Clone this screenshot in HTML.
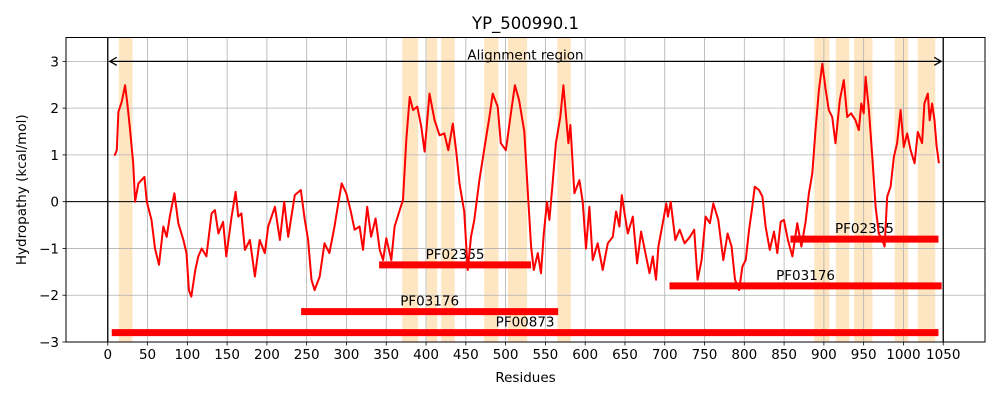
<!DOCTYPE html>
<html><head><meta charset="utf-8"><style>
html,body{margin:0;padding:0;background:#fff;}
svg{display:block;font-family:"DejaVu Sans","Liberation Sans",sans-serif;}
</style></head><body>
<svg id="chart" width="1000" height="400" viewBox="0 0 1000 400">
<rect x="0" y="0" width="1000" height="400" fill="#fff"/>
<g id="spans"></g><g id="grid"></g><g id="refs"></g><g id="domains"></g><g id="series"></g><g id="axes"></g>
</svg>
<script>
const residues=[8.4,11.3,13.4,17.6,21.8,25,28,32,34.3,38.5,46,49,55,59.4,64.4,69.8,74,78,83.7,88.7,95,99,102,105,110,113.8,118,124,130.5,134.7,139,145,149,155.6,160.6,164,168,172.3,178.6,184.9,191,197.4,201.6,210,216.3,221.7,226.7,235,242.6,247.6,251.8,256,260,266.4,272.4,278.6,285,289,294,299.8,305,310.2,316.5,320.8,326,331,336.6,341.7,346,350.1,356.3,360.5,365.6,371,375.2,379.4,383.6,389,394,398.2,404.4,410.7,417,423,428,433.6,437.8,442,448,452.3,456.5,460.7,467,473,479.6,483.8,490,494,500.4,506.7,511.7,517,523.5,527,532,535.4,540.4,544.5,548,552,555,559,563.2,568.7,572.6,576,578.9,581.4,586.4,592.7,596.9,601,605.3,609.5,615.8,622,628.4,634.7,638.9,643,646,650.2,653.6,659.8,665.3,670.3,676.6,680.8,685,689,692,697.8,702,704,707.5,713.3,718.8,725,731.7,737,741.3,746.3,751.3,756.8,761,767.3,773.6,779,784,788.3,793.4,797.6,801.7,806,810,813,818.5,822.7,826.7,832,837.3,841.5,845.7,849.8,854.8,860.4,866.6,871.7,877,881.2,885.4,889.5,893.7,898,902,906.2,910.4,914.6,920,925,929.3,934.2,939.7,943.9,947,950,952.4,956.6,960.8,965,969,973.4,976.3,979.6,983.8,988,992,996.4,1000.5,1004.7,1009,1014,1018,1023.4,1026.4,1030.6,1033,1036,1039,1041.5,1044.5];
const hydropathy=[0.98,1.1,1.92,2.14,2.49,2.03,1.53,0.82,0,0.39,0.53,0,-0.39,-1,-1.35,-0.53,-0.75,-0.32,0.18,-0.46,-0.82,-1.1,-1.89,-2.03,-1.46,-1.17,-1,-1.17,-0.25,-0.18,-0.68,-0.43,-1.17,-0.32,0.21,-0.32,-0.25,-1.03,-0.82,-1.6,-0.82,-1.1,-0.53,-0.11,-0.82,0,-0.75,0.14,0.25,-0.39,-0.82,-1.67,-1.89,-1.6,-0.89,-1.1,-0.53,-0.11,0.39,0.18,-0.18,-0.6,-0.53,-1.03,-0.11,-0.75,-0.36,-1.03,-1.25,-0.78,-1.25,-0.53,-0.25,0.04,1.32,2.24,1.96,2.03,1.6,1.07,2.31,1.74,1.42,1.46,1.1,1.67,1.1,0.39,-0.21,-1.46,-0.75,-0.39,0.46,1.1,1.81,2.31,2.03,1.25,1.1,1.89,2.49,2.17,1.5,0.46,-0.96,-1.46,-1.1,-1.53,-0.68,0,-0.39,0.39,1.25,1.81,2.49,1.81,1.25,1.64,0.18,0.46,0,-1,-0.11,-1.25,-0.89,-1.46,-0.89,-0.75,-0.21,-0.53,0.14,-0.32,-0.68,-0.32,-1.32,-0.64,-1.17,-1.53,-1.17,-1.67,-0.96,-0.43,-0.04,-0.32,0,-0.82,-0.6,-0.89,-0.75,-0.6,-1.67,-1.25,-0.32,-0.46,-0.04,-0.39,-1.25,-0.68,-0.96,-1.67,-1.89,-1.39,-1.25,-0.6,-0.11,0.32,0.25,0.11,-0.53,-1.03,-0.64,-1.1,-0.43,-0.39,-0.82,-1.17,-0.46,-0.96,-0.43,0.18,0.6,1.53,2.38,2.95,2.42,1.96,1.81,1.25,2.17,2.6,1.81,1.89,1.74,1.53,2.1,1.89,2.67,1.96,0.96,-0.11,-0.68,-0.82,-0.96,0.11,0.32,0.96,1.25,1.96,1.17,1.46,1.1,0.82,1.49,1.25,2.1,2.31,1.74,2.1,1.74,1.21,0.82];
const spanStarts=[14,370,401,419,473,503,565,888,915,938,989,1018];
const spanEnds=[31,390,414,436,491,527,582,907,932,961,1006,1040];
const domainNames=["PF00873","PF03176","PF02355","PF03176","PF02355"];
const domainStarts=[5,243,341,706,858];
const domainEnds=[1044,566,532,1048,1044];
const domainLevels=[-2.8,-2.35,-1.35,-1.8,-0.8];
const xTicks=[0,50,100,150,200,250,300,350,400,450,500,550,600,650,700,750,800,850,900,950,1000,1050];
const yTicks=[-3,-2,-1,0,1,2,3];

const L=66,R=985,T=37.5,B=342;
const xmin=-52.5,xmax=1102.5,ymin=-3,ymax=3.51;
const X=v=>L+(v-xmin)/(xmax-xmin)*(R-L);
const Y=v=>B-(v-ymin)/(ymax-ymin)*(B-T);
const NS="http://www.w3.org/2000/svg";
function mk(tag,parent,attrs){const e=document.createElementNS(NS,tag);for(const k in attrs)e.setAttribute(k,attrs[k]);document.getElementById(parent).appendChild(e);return e;}

spanStarts.forEach((s,i)=>{
  const r=mk('rect','spans',{x:X(s),y:T,width:X(spanEnds[i])-X(s),height:B-T,fill:'#ffe6c2'});
  
  
});
xTicks.forEach(t=>{
  const g=mk('line','grid',{x1:X(t),x2:X(t),y1:T,y2:B,stroke:'#b0b0b0','stroke-width':0.8});
  
  
  const tk=mk('line','axes',{x1:X(t),x2:X(t),y1:B,y2:B+3.5,stroke:'#000','stroke-width':0.8});
  
  
  const lb=mk('text','axes',{x:X(t),y:B+17,'font-size':13.5,'text-anchor':'middle',fill:'#000'});
  lb.textContent=t;
  
  
});
yTicks.forEach(t=>{
  const g=mk('line','grid',{x1:L,x2:R,y1:Y(t),y2:Y(t),stroke:'#b0b0b0','stroke-width':0.8});
  
  
  const tk=mk('line','axes',{x1:L-3.5,x2:L,y1:Y(t),y2:Y(t),stroke:'#000','stroke-width':0.8});
  
  
  const lb=mk('text','axes',{x:L-7,y:Y(t)+5,'font-size':13.5,'text-anchor':'end',fill:'#000'});
  lb.textContent=(t<0?'\u2212'+(-t):t);
  
  
});
[0,1050].forEach(v=>{
  const l=mk('line','refs',{x1:X(v),x2:X(v),y1:T,y2:B,stroke:'#000','stroke-width':1.3});
  
  
});
const z=mk('line','refs',{x1:L,x2:R,y1:Y(0),y2:Y(0),stroke:'#000','stroke-width':1});


const ar=mk('path','refs',{d:`M${X(0)+2},${Y(3)} H${X(1050)-2} M${X(0)+9},${Y(3)-4} L${X(0)+2},${Y(3)} L${X(0)+9},${Y(3)+4} M${X(1050)-9},${Y(3)-4} L${X(1050)-2},${Y(3)} L${X(1050)-9},${Y(3)+4}`,stroke:'#000','stroke-width':1.3,fill:'none'});


const at=mk('text','refs',{x:X(525),y:Y(3)-2,'font-size':13.5,'text-anchor':'middle',fill:'#000'});
at.textContent='Alignment region';



domainNames.forEach((n,i)=>{
  const b=mk('line','domains',{x1:X(domainStarts[i]),x2:X(domainEnds[i]),y1:Y(domainLevels[i]),y2:Y(domainLevels[i]),stroke:'#ff0000','stroke-width':7});
  
  
  const t=mk('text','domains',{x:X((domainStarts[i]+domainEnds[i])/2),y:Y(domainLevels[i])-6,'font-size':13.5,'text-anchor':'middle',fill:'#000'});
  t.textContent=n;
  
  
});

const pts=residues.map((r,i)=>X(r).toFixed(1)+','+Y(hydropathy[i]).toFixed(1)).join(' ');
const pl=mk('polyline','series',{points:pts,fill:'none',stroke:'#ff0000','stroke-width':2,'stroke-linejoin':'round'});



const fr=mk('rect','axes',{x:L,y:T,width:R-L,height:B-T,fill:'none',stroke:'#000','stroke-width':1});


const ti=mk('text','axes',{x:(L+R)/2,y:29,'font-size':16.5,'text-anchor':'middle',fill:'#000'});
ti.textContent='YP_500990.1';


const xl=mk('text','axes',{x:(L+R)/2,y:382,'font-size':13.5,'text-anchor':'middle',fill:'#000'});
xl.textContent='Residues';


const yl=mk('text','axes',{x:0,y:0,'font-size':13.5,'text-anchor':'middle',fill:'#000',transform:`translate(26,${(T+B)/2}) rotate(-90)`});
yl.textContent='Hydropathy (kcal/mol)';


</script>
</body></html>
